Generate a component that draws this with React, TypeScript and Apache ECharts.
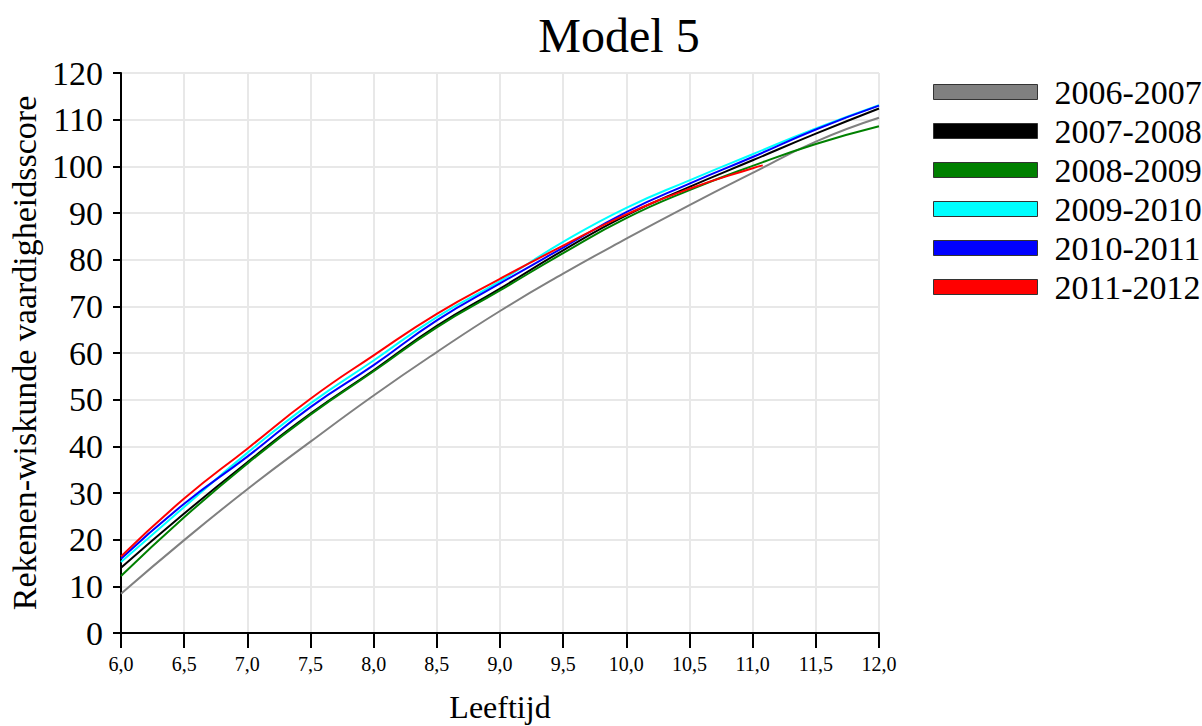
import React, { useEffect, useRef } from "react";
import * as echarts from "echarts";

const ages = [6.0, 6.5, 7.0, 7.5, 8.0, 8.5, 9.0, 9.5, 10.0, 10.5, 11.0, 11.5, 12.0];

const seriesNames = ["2006-2007", "2007-2008", "2008-2009", "2009-2010", "2010-2011", "2011-2012"];
const seriesColors = ["#808080", "#000000", "#008000", "#00ffff", "#0000ff", "#ff0000"];

const y2006 = [8.4, 19.9, 30.8, 41.0, 50.9, 60.2, 69.0, 77.0, 84.5, 91.7, 98.6, 105.3, 110.4];
const y2007 = [14.0, 25.6, 36.6, 47.0, 56.3, 65.8, 73.8, 82.0, 89.5, 95.6, 101.3, 107.0, 112.4];
const y2008 = [12.2, 24.8, 36.3, 46.8, 56.1, 65.5, 73.4, 81.4, 88.9, 94.9, 100.1, 104.8, 108.6];
const y2009 = [15.2, 27.0, 38.6, 49.2, 58.4, 67.7, 75.4, 83.8, 91.1, 97.0, 102.6, 108.1, 113.1];
const y2010 = [15.9, 27.7, 37.8, 48.4, 57.4, 67.0, 74.9, 82.6, 90.2, 96.3, 102.0, 107.9, 113.0];
const y2011 = [16.4, 28.8, 39.5, 50.2, 59.5, 68.4, 75.9, 83.0, 89.7, 95.2, 99.6];
const redEndAge = 11.08;
const redEndValue = 100.2;

const FONT = "'Liberation Serif', 'Times New Roman', serif";

export default function App() {
  const ref = useRef<HTMLDivElement>(null);
  useEffect(() => {
    if (!ref.current) return;
    const chart = echarts.init(ref.current, undefined, { renderer: "svg" });
    const all = [y2006, y2007, y2008, y2009, y2010, y2011];
    const series = all.map((vals, i) => {
      const data: number[][] = vals.map((v, j) => [ages[j], v]);
      if (i === 5) data.push([redEndAge, redEndValue]);
      return {
        name: seriesNames[i],
        type: "line",
        smooth: true,
        showSymbol: false,
        symbol: "none",
        data,
        lineStyle: { color: seriesColors[i], width: 2 },
        itemStyle: { color: seriesColors[i] },
        z: 3 + i,
      };
    });
    chart.setOption({
      animation: false,
      backgroundColor: "#ffffff",
      title: {
        text: "Model 5",
        left: 614,
        textAlign: "center",
        top: 6,
        textStyle: { fontFamily: FONT, fontSize: 48, fontWeight: "normal", color: "#000" },
      },
      legend: {
        orient: "vertical",
        left: 928,
        top: 70,
        itemWidth: 104,
        itemHeight: 15,
        itemGap: 5,
        icon: "rect",
        itemStyle: { borderColor: "#333", borderWidth: 1 },
        textStyle: { fontFamily: FONT, fontSize: 34, color: "#000", lineHeight: 32, padding: [0, 0, 0, 12] },
        data: seriesNames,
      },
      grid: {
        left: 121,
        right: 323,
        top: 73,
        bottom: 93,
        containLabel: false,
        outerBoundsMode: "none",
        show: true,
        borderColor: "#333",
        borderWidth: 1,
        backgroundColor: "transparent",
      },
      xAxis: {
        type: "value",
        min: 6,
        max: 12,
        interval: 0.5,
        name: "Leeftijd",
        nameLocation: "middle",
        nameGap: 58,
        nameTextStyle: { fontFamily: FONT, fontSize: 32, color: "#000" },
        axisLine: { show: true, onZero: false, lineStyle: { color: "#000", width: 2 } },
        axisTick: { show: true, length: 15, lineStyle: { color: "#000", width: 2 } },
        axisLabel: {
          margin: 21,
          fontFamily: FONT,
          fontSize: 20,
          color: "#000",
          formatter: (v: number) => v.toFixed(1).replace(".", ","),
        },
        splitLine: { show: true, lineStyle: { color: "#e8e8e8", width: 2 } },
      },
      yAxis: {
        type: "value",
        min: 0,
        max: 120,
        interval: 10,
        name: "Rekenen-wiskunde vaardigheidsscore",
        nameLocation: "middle",
        nameGap: 76,
        nameTextStyle: { fontFamily: FONT, fontSize: 34, color: "#000" },
        axisLine: { show: true, lineStyle: { color: "#000", width: 2 } },
        axisTick: { show: true, length: 8, lineStyle: { color: "#000", width: 2 } },
        axisLabel: { margin: 18, fontFamily: FONT, fontSize: 34, color: "#000" },
        splitLine: { show: true, lineStyle: { color: "#e8e8e8", width: 2 } },
      },
      series,
    });
    return () => chart.dispose();
  }, []);
  return (
    <div
      ref={ref}
      style={{ position: "fixed", left: 0, top: 0, width: 1202, height: 726, background: "#fff" }}
    />
  );
}
